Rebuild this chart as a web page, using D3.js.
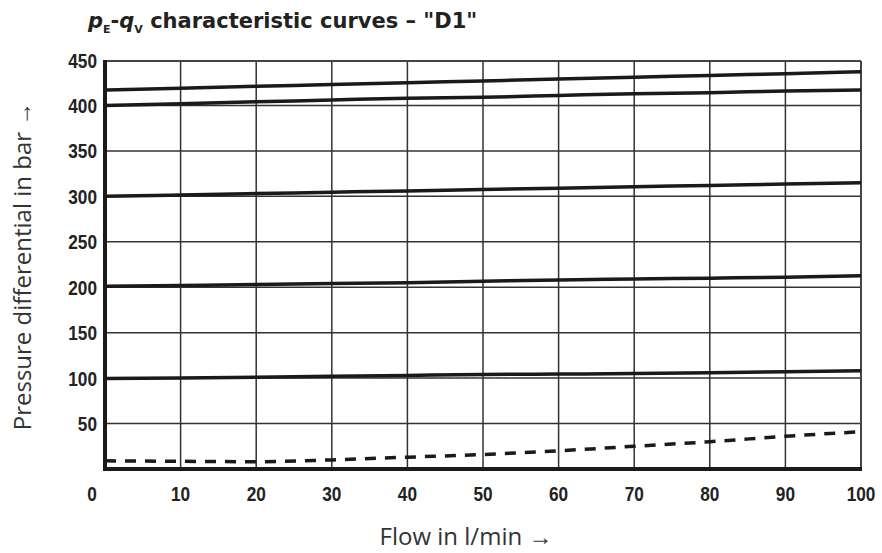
<!DOCTYPE html>
<html>
<head>
<meta charset="UTF-8" />
<script src="https://cdn.jsdelivr.net/npm/d3@7"></script>
<style>
  body { margin: 0; background: white; }
  svg { display: block; }
  .tick-lbl { font-family: "Liberation Sans", Arial, sans-serif; font-weight: bold; font-size: 21px; fill: #222; }
  .ax-title { font-family: "Open Sans", "Noto Sans", sans-serif; font-size: 24px; fill: #333; }
</style>
</head>
<body>
<div id="chart"></div>
<script>
// flow values (l/min)
const flow = [0, 10, 20, 30, 40, 50, 60, 70, 80, 90, 100];
// pressure curves (bar), solid
const curve450 = [417, 419, 421, 423, 425, 427, 429, 431, 433, 435, 437];
const curve400 = [400, 402, 404, 406, 408, 409, 411, 413, 414, 416, 417];
const curve300 = [300, 301.5, 303, 304.5, 306, 307.5, 309, 310.5, 312, 313.5, 315];
const curve200 = [201, 202, 203, 204, 205, 206.5, 208, 209, 210, 211, 212.5];
const curve100 = [99.5, 100, 101, 102, 103, 104, 104.5, 105, 106, 107, 108];
// dashed curve
const curveMin = [9, 8.5, 8, 10, 13, 16, 20, 25, 30, 36, 41];
const xTicks = [0, 10, 20, 30, 40, 50, 60, 70, 80, 90, 100];
const yTicks = [50, 100, 150, 200, 250, 300, 350, 400, 450];

const w = 882, h = 553;
const pL = 105, pR = 861, pT = 61, pB = 469;

const svg = d3.select("#chart").append("svg").attr("width", w).attr("height", h);

const x = d3.scaleLinear().domain([0, 100]).range([pL, pR]);
const y = d3.scaleLinear().domain([0, 450]).range([pB, 60]);

// grid
svg.append("g").selectAll("line").data(xTicks.slice(1)).enter().append("line")
  .attr("x1", d => x(d)).attr("x2", d => x(d)).attr("y1", pT).attr("y2", pB)
  .attr("stroke", "#333").attr("stroke-width", 1.5);
svg.append("g").selectAll("line").data(yTicks.slice(0, -1)).enter().append("line")
  .attr("x1", pL).attr("x2", pR).attr("y1", d => y(d)).attr("y2", d => y(d))
  .attr("stroke", "#333").attr("stroke-width", 1.5);
// top / right border
svg.append("line").attr("x1", pL).attr("x2", pR).attr("y1", pT).attr("y2", pT)
  .attr("stroke", "#444").attr("stroke-width", 2);
svg.append("line").attr("x1", pR).attr("x2", pR).attr("y1", pT).attr("y2", pB)
  .attr("stroke", "#444").attr("stroke-width", 2);

// curves
const line = d3.line().x((d, i) => x(flow[i])).y(d => y(d)).curve(d3.curveMonotoneX);
[curve450, curve400, curve300, curve200, curve100].forEach(c => {
  svg.append("path").attr("d", line(c)).attr("fill", "none")
    .attr("stroke", "#1a1a1a").attr("stroke-width", 3.5);
});
svg.append("path").attr("d", line(curveMin)).attr("fill", "none")
  .attr("stroke", "#1a1a1a").attr("stroke-width", 3.5).attr("stroke-dasharray", "11,9");

// main axes
svg.append("line").attr("x1", pL).attr("x2", pL).attr("y1", pT - 1).attr("y2", pB + 2)
  .attr("stroke", "#1a1a1a").attr("stroke-width", 4);
svg.append("line").attr("x1", pL - 2).attr("x2", pR + 1).attr("y1", pB).attr("y2", pB)
  .attr("stroke", "#1a1a1a").attr("stroke-width", 4);

// tick labels (condensed bold)
svg.append("g").selectAll("text").data(yTicks).enter().append("text")
  .attr("class", "tick-lbl")
  .attr("transform", d => "translate(97," + y(d) + ") scale(0.82,1)")
  .attr("dy", "0.36em").attr("text-anchor", "end").text(d => d);
svg.append("g").selectAll("text").data(xTicks).enter().append("text")
  .attr("class", "tick-lbl")
  .attr("transform", d => "translate(" + (d === 0 ? 92 : x(d)) + ",493) scale(0.82,1)")
  .attr("dy", "0.36em").attr("text-anchor", "middle").text(d => d);

// axis titles
svg.append("text").attr("class", "ax-title").attr("x", 466).attr("y", 536)
  .attr("dy", "0.36em").attr("text-anchor", "middle").text("Flow in l/min \u2192");
svg.append("text").attr("class", "ax-title")
  .attr("transform", "translate(22,266) rotate(-90)")
  .attr("dy", "0.36em").attr("text-anchor", "middle").text("Pressure differential in bar \u2192");

// title
const t = svg.append("text").attr("x", 88).attr("y", 28)
  .attr("font-family", "'DejaVu Sans', 'Open Sans', sans-serif").attr("font-weight", "bold")
  .attr("font-size", 21).attr("fill", "#222");
t.append("tspan").attr("font-style", "italic").text("p");
t.append("tspan").attr("font-size", 11).attr("dy", 5).text("E");
t.append("tspan").attr("dy", -5).text("-");
t.append("tspan").attr("font-style", "italic").text("q");
t.append("tspan").attr("font-size", 11).attr("dy", 5).text("V");
t.append("tspan").attr("dy", -5).text(" characteristic curves \u2013 \"D1\"");
</script>
</body>
</html>
